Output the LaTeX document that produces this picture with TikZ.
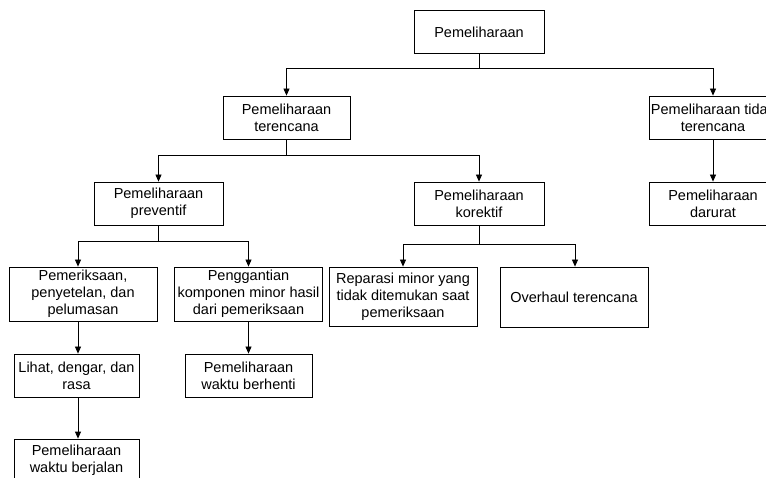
\documentclass[tikz,border=0pt]{standalone}
\usepackage{fontspec}
\setmainfont{Liberation Sans}
\usetikzlibrary{arrows.meta, positioning}

\begin{document}
\begin{tikzpicture}[
  x=1pt, y=-1pt,
  kotak/.style={draw, line width=0.8pt, align=center, inner sep=0pt,
                font=\fontsize{14.5}{17}\selectfont, minimum width=#1, minimum height=43pt},
  kotak/.default=130pt,
  panah/.style={line width=0.8pt, -{Triangle[length=7pt, width=6pt]}},
]
  \useasboundingbox (0,0) rectangle (766,478);
  \coordinate (kiri) at (78,0);

  \node[kotak] (akar) at (479,32) {Pemeliharaan};
  \node[kotak=127pt] (terencana) at (286.5,117.5) {Pemeliharaan\\terencana};
  \node[kotak=128pt] (tidak) at (713,117.5) {Pemeliharaan tidak\\terencana};
  \node[kotak=129pt] (preventif) at (158.5,203.5) {Pemeliharaan\\preventif};
  \node[kotak] (korektif) at (479,203.5) {Pemeliharaan\\korektif};
  \node[kotak=128pt] (darurat) at (713,203.5) {Pemeliharaan\\darurat};
  \node[kotak=148pt, minimum height=54pt] (periksa) at (83,294) {Pemeriksaan,\\penyetelan, dan\\pelumasan};
  \node[kotak=148pt, minimum height=54pt] (ganti) at (248.5,294) {Penggantian\\komponen minor hasil\\dari pemeriksaan};
  \node[kotak=148pt, minimum height=59pt] (reparasi) at (403,296.5) {Reparasi minor yang\\tidak ditemukan saat\\pemeriksaan};
  \node[kotak=148pt, minimum height=60pt] (overhaul) at (574,297) {Overhaul terencana};
  \node[kotak=125pt] (lihat) at (76.5,375.5) {Lihat, dengar, dan\\rasa};
  \node[kotak=127pt] (berhenti) at (248.5,375.5) {Pemeliharaan\\waktu berhenti};
  \node[kotak=125pt] (berjalan) at (76.5,460.5) {Pemeliharaan\\waktu berjalan};

  \draw[panah] (akar.south) -- ++(0,15) -| (terencana.north);
  \draw[panah] (akar.south) -- ++(0,15) -| (tidak.north);
  \draw[panah] (terencana.south) -- ++(0,16) -| (preventif.north);
  \draw[panah] (terencana.south) -- ++(0,16) -| (korektif.north);
  \draw[panah] (tidak) -- (darurat);
  \draw[panah] (preventif.south) -- ++(0,16) -| (periksa.north -| kiri);
  \draw[panah] (preventif.south) -- ++(0,16) -| (ganti.north);
  \draw[panah] (korektif.south) -- ++(0,19) -| (reparasi.north);
  \draw[panah] (korektif.south) -- ++(0,19) -| ([xshift=1pt]overhaul.north);
  \draw[panah] (periksa.south -| kiri) -- (lihat.north -| kiri);
  \draw[panah] (lihat.south -| kiri) -- (berjalan.north -| kiri);
  \draw[panah] (ganti) -- (berhenti);
\end{tikzpicture}
\end{document}
